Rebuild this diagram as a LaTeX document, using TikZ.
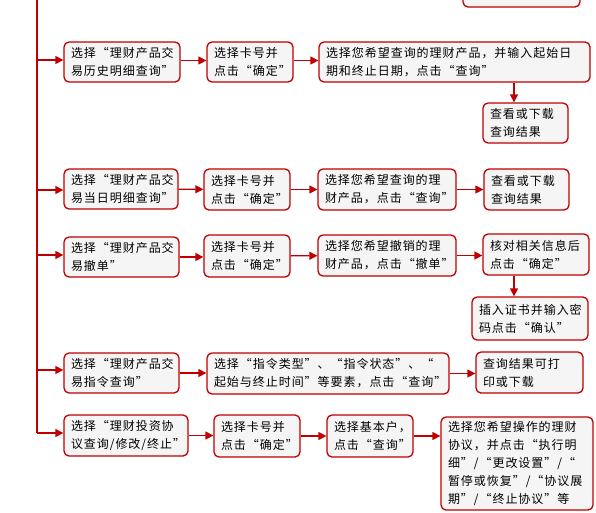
\documentclass[tikz,border=0pt]{standalone}
\usepackage{fontspec}
\newfontfamily\cjk[LetterSpace=8]{Noto Sans CJK SC}
\usetikzlibrary{arrows.meta}
\definecolor{bd}{RGB}{192,0,0}
\definecolor{bx}{RGB}{245,245,245}
\tikzset{
  box/.style={draw=bd, fill=bx, line width=1.3pt, rounded corners=5pt,
    inner xsep=7pt, inner ysep=0pt, align=left,
    font=\cjk\fontsize{12}{18}\selectfont},
  arr/.style={draw=bd, line width=1.3pt, -{Triangle[length=8pt,width=8pt]}},
  ln/.style={draw=bd, line width=1.3pt}
}
\newcommand\bx[6]{\node[box, minimum width={#4-#2}, minimum height={#5-#3}, text width={#4-#2-14}] (#1) at ({(#2+#4)/2},{(#3+#5)/2}) {#6};}
\begin{document}
\begin{tikzpicture}[x=1pt,y=-1pt]
\useasboundingbox (0,0) rectangle (596,512);
\clip (0,0) rectangle (596,512);
\fill[white] (0,0) rectangle (596,512);
% trunk
\coordinate (top) at (37,-5);
\coordinate (bot) at (37,433);
\draw[ln] (top) -- (bot);
% partial top box
\node[box, minimum width=117, minimum height=30] (T0) at (521.5,-8) {};
% row 1
\bx{A1}{64}{42}{180}{82}{选择“理财产品交\\易历史明细查询”}
\bx{B1}{207}{42}{293}{82}{选择卡号并\\点击“确定”}
\bx{C1}{319}{42}{590}{82}{选择您希望查询的理财产品，并输入起始日\\期和终止日期，点击“查询”}
\bx{D1}{483}{103}{568}{143}{查看或下载\\查询结果}
% row 2
\bx{A2}{64}{169}{178}{209}{选择“理财产品交\\易当日明细查询”}
\bx{B2}{204}{169}{290}{210}{选择卡号并\\点击“确定”}
\bx{C2}{318}{169}{456}{210}{选择您希望查询的理\\财产品，点击“查询”}
\bx{D2}{484}{169}{569}{210}{查看或下载\\查询结果}
% row 3
\bx{A3}{64}{237}{179}{277}{选择“理财产品交\\易撤单”}
\bx{B3}{204}{235}{290}{277}{选择卡号并\\点击“确定”}
\bx{C3}{318}{235}{456}{276}{选择您希望撤销的理\\财产品，点击“撤单”}
\bx{D3}{483}{234}{589}{275}{核对相关信息后\\点击“确定”}
\bx{E3}{472}{297}{588}{340}{插入证书并输入密\\码点击“确认”}
% row 4
\bx{A4}{64}{353}{179}{393}{选择“理财产品交\\易指令查询”}
\bx{B4}{207}{353}{449}{394}{选择“指令类型”、“指令状态”、“\\起始与终止时间”等要素，点击“查询”}
\bx{C4}{476}{352}{583}{393}{查询结果可打\\印或下载}
% row 5
\bx{A5}{64}{415}{188}{456}{选择“理财投资协\\议查询/修改/终止”}
\bx{B5}{214}{415}{300}{457}{选择卡号并\\点击“确定”}
\bx{C5}{327}{415}{413}{457}{选择基本户，\\点击“查询”}
\bx{D5}{441}{417}{593}{510}{选择您希望操作的理财\\协议，并点击“执行明\\细”/“更改设置”/“\\暂停或恢复”/“协议展\\期”/“终止协议”等}
% trunk branches
\coordinate (t1) at (37,60);
\coordinate (t2) at (37,190);
\coordinate (t3) at (37,255);
\coordinate (t4) at (37,370);
\coordinate (t5) at (37,433);
\draw[arr] (t1) -- (t1 -| A1.west);
\draw[arr] (t2) -- (t2 -| A2.west);
\draw[arr] (t3) -- (t3 -| A3.west);
\draw[arr] (t4) -- (t4 -| A4.west);
\draw[arr] (t5) -- (t5 -| A5.west);
% row arrows
\draw[arr] ([yshift=1.5pt]A1.east) -- ([yshift=1.5pt]B1.west);
\draw[arr] ([yshift=1.5pt]B1.east) -- ([yshift=1.5pt]C1.west);
\draw[arr] (A2) -- (B2);
\draw[arr] (B2) -- (C2);
\draw[arr] (C2) -- (D2);
\draw[arr] (A3.east) -- (A3.east -| B3.west);
\draw[arr] (B3) -- (C3);
\draw[arr] (C3.east) -- (C3.east -| D3.west);
\draw[arr] (A4.east) -- (A4.east -| B4.west);
\draw[arr] (B4.east) -- (B4.east -| C4.west);
\draw[arr] (A5.east) -- (A5.east -| B5.west);
\draw[arr] (B5) -- (C5);
\draw[arr] (C5.east) -- (C5.east -| D5.west);
% vertical arrows
\coordinate (v1) at (514,0);
\draw[arr] (C1.south -| v1) -- (D1.north -| v1);
\draw[arr] (D3.south -| v1) -- (E3.north -| v1);
\end{tikzpicture}
\end{document}
